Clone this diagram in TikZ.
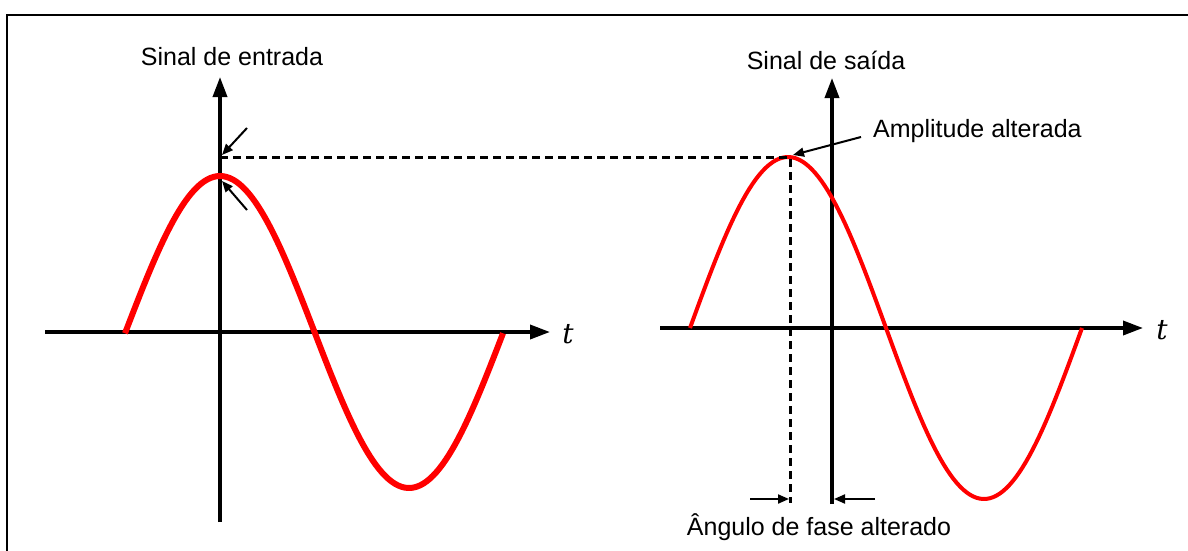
\documentclass[tikz,border=0pt]{standalone}
\usepackage{fontspec}
\setmainfont{Liberation Sans}
\newfontfamily\tfont{DejaVu Serif}
\usetikzlibrary{arrows.meta}
\tikzset{
  axis/.style={line width=3.6pt,-{Triangle[length=20pt,width=14pt]}},
  wave/.style={red,line width=#1,line join=round},
  guide/.style={line width=3pt,dash pattern=on 8pt off 5pt},
  pointer/.style={line width=2pt,-{Triangle[length=11pt,width=9pt]}},
  lbl/.style={font=\fontsize{25}{29}\selectfont,inner sep=0pt},
  tlbl/.style={font=\tfont\itshape\fontsize{28}{32}\selectfont,inner sep=0pt},
  frame/.style={line width=2.5pt}
}
\begin{document}
\begin{tikzpicture}[x=1pt,y=-1pt]
\useasboundingbox (0,0) rectangle (1188,551);
% frame
\coordinate (f1) at (7,551);
\coordinate (f2) at (7,15);
\coordinate (f3) at (1188,15);
\draw[frame] (f1) -- (f2) -- (f3);
% left graph
\coordinate (lx0) at (45,332);
\coordinate (lx1) at (550,332);
\coordinate (ly0) at (220,522);
\coordinate (ly1) at (220,77);
\draw[axis] (lx0) -- (lx1);
\draw[axis] (ly0) -- (ly1);
\node[tlbl] (lt) at (568,334) {t};
\node[lbl] (lname) at (232,57) {Sinal de entrada};
\draw[wave=6pt] plot[domain=125:503,samples=120] (\x,{332-156*cos((\x-220)/378*360)});
% right graph
\coordinate (rx0) at (660,328);
\coordinate (rx1) at (1143,328);
\coordinate (ry0) at (832,504);
\coordinate (ry1) at (832,78);
\draw[axis] (rx0) -- (rx1);
\draw[axis] (ry0) -- (ry1);
\node[tlbl] (rt) at (1162,330) {t};
\node[lbl] (rname) at (826,60) {Sinal de saída};
\draw[wave=4pt] plot[domain=690:1082,samples=120] (\x,{328-171*cos((\x-788)/392*360)});
% guides
\coordinate (g0) at (220,157);
\coordinate (peak) at (790,157);
\coordinate (g1) at (790,503);
\draw[guide] (g0) -- (peak) -- (g1);
% left small arrows
\coordinate (a1s) at (247,128);
\coordinate (a1e) at (222,155);
\coordinate (a2s) at (247,210);
\coordinate (a2e) at (222,181);
\draw[pointer] (a1s) -- (a1e);
\draw[pointer] (a2s) -- (a2e);
% amplitude label
\node[lbl,anchor=west] (amp) at (873,131) {Amplitude alterada};
\draw[pointer] (amp.west) ++(-12,6) coordinate (ampt) -- (793,155);
% phase arrows
\coordinate (p1s) at (750,499);
\coordinate (p1e) at (789,499);
\coordinate (p2s) at (875,499);
\coordinate (p2e) at (834,499);
\draw[pointer] (p1s) -- (p1e);
\draw[pointer] (p2s) -- (p2e);
\node[lbl] (phase) at (819,527) {Ângulo de fase alterado};
\end{tikzpicture}
\end{document}
